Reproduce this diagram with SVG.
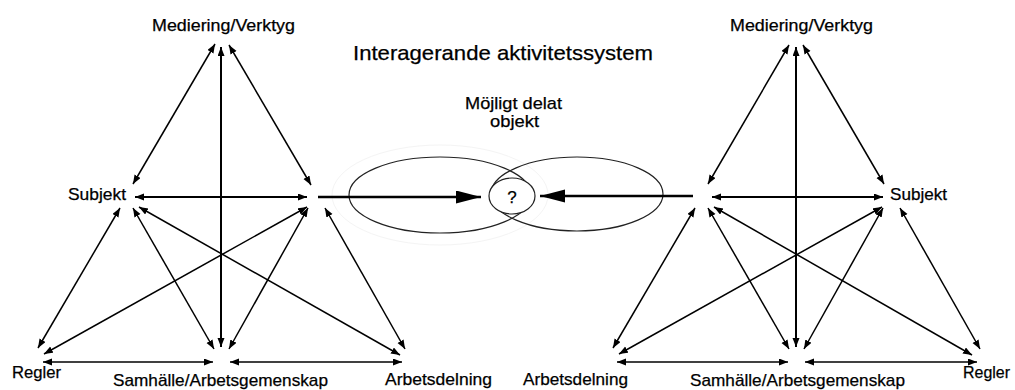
<svg xmlns="http://www.w3.org/2000/svg" width="1015" height="390" viewBox="0 0 1015 390">
<style>
  text { font-family: "Liberation Sans", Arial, sans-serif; fill: #000; stroke: #000; stroke-width: 0.25; }
  .lbl { font-size: 17px; }
  .title { font-size: 21px; }
  .c { stroke: #000; stroke-width: 1.5; fill: none; marker-start: url(#ah); marker-end: url(#ah); }
  .cw { stroke: #000; stroke-width: 2; fill: none; marker-start: url(#ah); marker-end: url(#ah); }
  .big { stroke: #000; stroke-width: 2.6; fill: none; marker-end: url(#bh); }
  .ell { stroke: #222; stroke-width: 1.2; fill: none; }
</style>
<defs>
  <marker id="ah" markerUnits="userSpaceOnUse" markerWidth="10" markerHeight="8" refX="9" refY="3.5" orient="auto-start-reverse">
    <path d="M0,0 L9,3.5 L0,7 z" fill="#000"/>
  </marker>
  <marker id="bh" markerUnits="userSpaceOnUse" markerWidth="26" markerHeight="14" refX="25" refY="6.5" orient="auto">
    <path d="M0,0 L25,6.5 L0,13 z" fill="#000"/>
  </marker>
</defs>
<rect width="1015" height="390" fill="#fff"/>

<g id="title"><text class="title" x="353" y="60" textLength="300" lengthAdjust="spacingAndGlyphs">Interagerande aktivitetssystem</text></g>

<g id="shared-object">
  <ellipse cx="440" cy="195" rx="108" ry="50" fill="none" stroke="#f4f4f4" stroke-width="1"/>
  <ellipse class="ell" cx="440" cy="195" rx="91" ry="38"/>
  <ellipse class="ell" cx="577" cy="194" rx="86" ry="37"/>
  <ellipse cx="512" cy="196" rx="23" ry="18" fill="#fff" stroke="#222" stroke-width="1.2"/>
  <text class="lbl" x="512" y="203" text-anchor="middle" font-size="20">?</text>
  <text class="lbl" x="465" y="109" textLength="97" lengthAdjust="spacingAndGlyphs">Möjligt delat</text>
  <text class="lbl" x="490" y="127" textLength="49" lengthAdjust="spacingAndGlyphs">objekt</text>
</g>

<g id="left-system">
  <g id="l-mediering"><text class="lbl" x="152" y="31" textLength="143" lengthAdjust="spacingAndGlyphs">Mediering/Verktyg</text></g>
  <g id="l-subjekt"><text class="lbl" x="68" y="200" textLength="58" lengthAdjust="spacingAndGlyphs">Subjekt</text></g>
  <g id="l-regler"><text class="lbl" x="12" y="378" textLength="49" lengthAdjust="spacingAndGlyphs">Regler</text></g>
  <g id="l-samhalle"><text class="lbl" x="113" y="386" textLength="215" lengthAdjust="spacingAndGlyphs">Samhälle/Arbetsgemenskap</text></g>
  <g id="l-arbetsdelning"><text class="lbl" x="385" y="385" textLength="107" lengthAdjust="spacingAndGlyphs">Arbetsdelning</text></g>
</g>

<g id="right-system">
  <g id="r-mediering"><text class="lbl" x="730" y="31" textLength="143" lengthAdjust="spacingAndGlyphs">Mediering/Verktyg</text></g>
  <g id="r-subjekt"><text class="lbl" x="890" y="200" textLength="57" lengthAdjust="spacingAndGlyphs">Subjekt</text></g>
  <g id="r-regler"><text class="lbl" x="963" y="378" textLength="47" lengthAdjust="spacingAndGlyphs">Regler</text></g>
  <g id="r-samhalle"><text class="lbl" x="690" y="386" textLength="215" lengthAdjust="spacingAndGlyphs">Samhälle/Arbetsgemenskap</text></g>
  <g id="r-arbetsdelning"><text class="lbl" x="523" y="385" textLength="105" lengthAdjust="spacingAndGlyphs">Arbetsdelning</text></g>
</g>

<g id="connectors">
  <!-- left triangle -->
  <line class="cw" x1="221" y1="47" x2="221" y2="347"/>
  <line class="c" x1="215" y1="44" x2="133" y2="184"/>
  <line class="c" x1="229" y1="45" x2="311" y2="185"/>
  <line class="cw" x1="135" y1="197" x2="307" y2="197"/>
  <line class="c" x1="120" y1="208" x2="38" y2="348"/>
  <line class="c" x1="133" y1="208" x2="214" y2="349"/>
  <line class="c" x1="139" y1="207" x2="400" y2="355"/>
  <line class="c" x1="307" y1="207" x2="44" y2="354"/>
  <line class="c" x1="308" y1="208" x2="229" y2="349"/>
  <line class="c" x1="325" y1="208" x2="405" y2="349"/>
  <line class="c" x1="43" y1="362" x2="213" y2="362"/>
  <line class="c" x1="230" y1="362" x2="402" y2="362"/>
  <!-- right triangle -->
  <line class="cw" x1="796" y1="47" x2="796" y2="347"/>
  <line class="c" x1="789" y1="45" x2="708" y2="184"/>
  <line class="c" x1="803" y1="45" x2="884" y2="184"/>
  <line class="cw" x1="712" y1="197" x2="883" y2="197"/>
  <line class="c" x1="695" y1="208" x2="613" y2="348"/>
  <line class="c" x1="708" y1="208" x2="789" y2="349"/>
  <line class="c" x1="714" y1="207" x2="972" y2="355"/>
  <line class="c" x1="882" y1="207" x2="619" y2="354"/>
  <line class="c" x1="883" y1="208" x2="804" y2="349"/>
  <line class="c" x1="900" y1="208" x2="980" y2="349"/>
  <line class="c" x1="617" y1="362" x2="788" y2="362"/>
  <line class="c" x1="805" y1="362" x2="977" y2="362"/>
  <!-- arrows to shared object -->
  <line class="big" x1="318" y1="197" x2="481" y2="197"/>
  <line class="big" x1="693" y1="196" x2="540" y2="196"/>
</g>
</svg>
